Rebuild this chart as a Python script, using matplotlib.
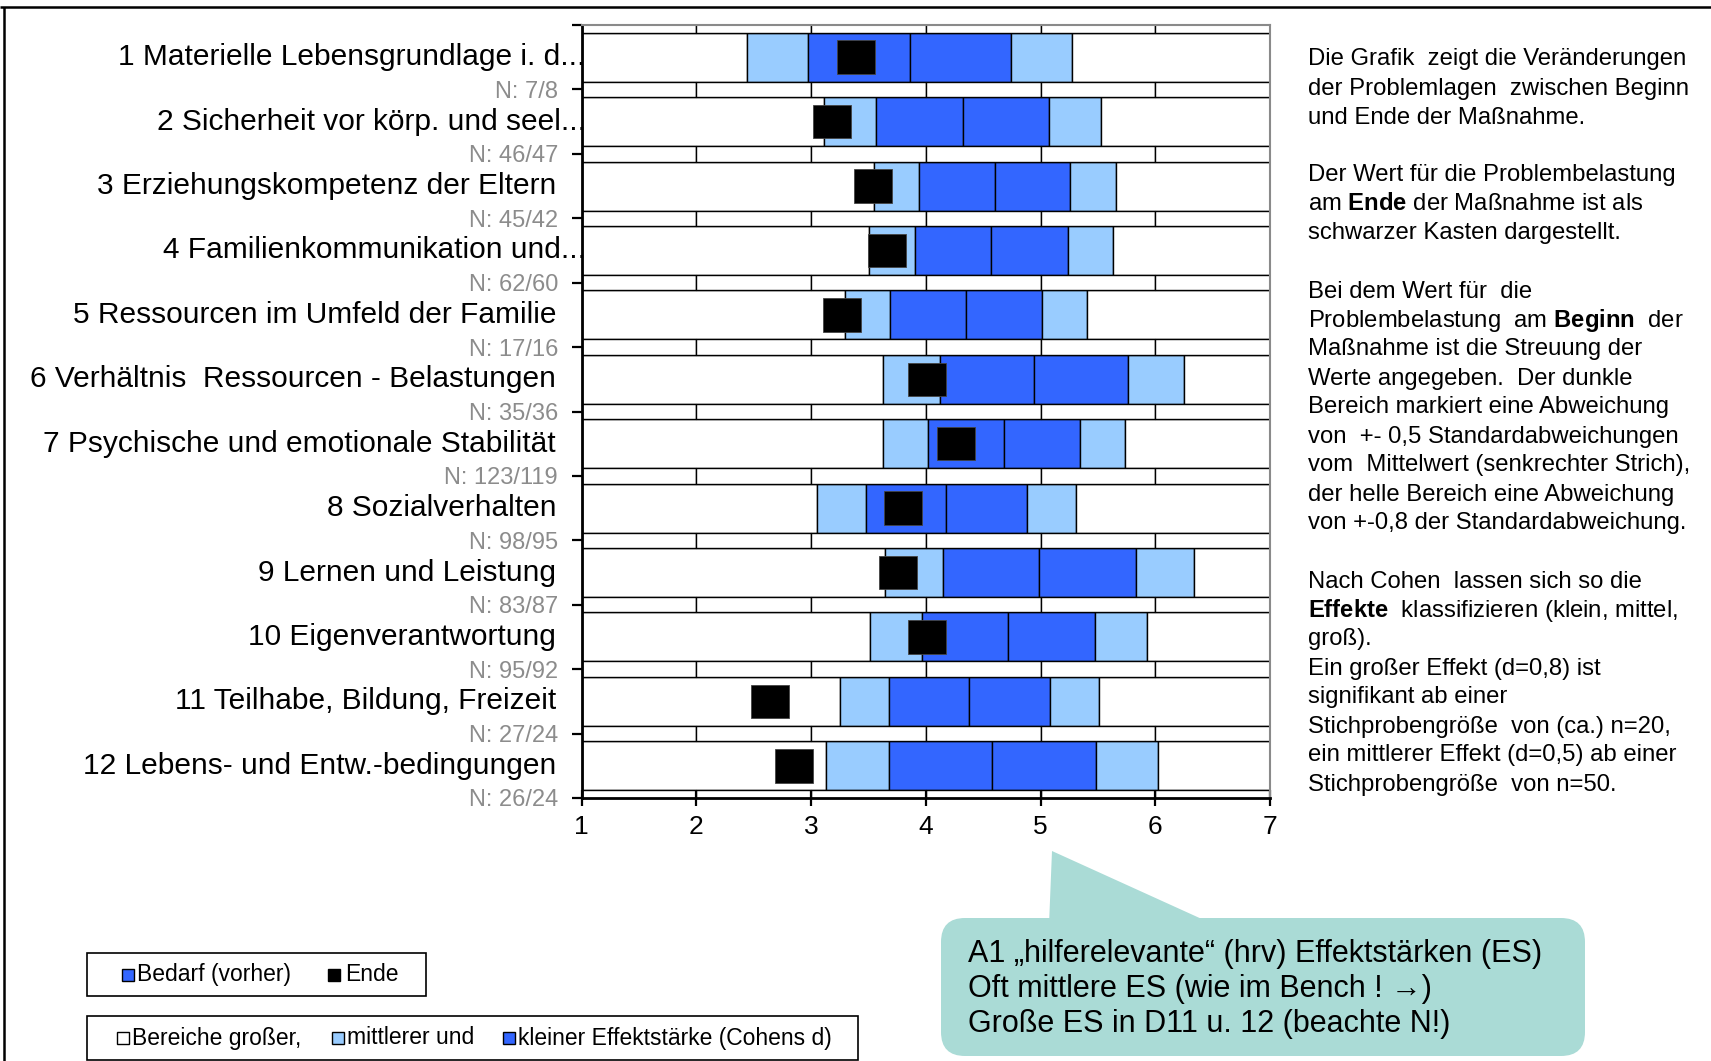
import matplotlib
matplotlib.use("Agg")
import matplotlib.pyplot as plt
import numpy as np
from matplotlib.patches import Rectangle, FancyBboxPatch, Polygon
from matplotlib.transforms import blended_transform_factory
from matplotlib import font_manager

# --- data ---
categories = ["1 Materielle Lebensgrundlage i. d...", "2 Sicherheit vor körp. und seel...",
              "3 Erziehungskompetenz der Eltern", "4 Familienkommunikation und...",
              "5 Ressourcen im Umfeld der Familie", "6 Verhältnis  Ressourcen - Belastungen",
              "7 Psychische und emotionale Stabilität", "8 Sozialverhalten",
              "9 Lernen und Leistung", "10 Eigenverantwortung",
              "11 Teilhabe, Bildung, Freizeit", "12 Lebens- und Entw.-bedingungen"]
n_labels = ["N: 7/8", "N: 46/47", "N: 45/42", "N: 62/60", "N: 17/16", "N: 35/36",
            "N: 123/119", "N: 98/95", "N: 83/87", "N: 95/92", "N: 27/24", "N: 26/24"]
mean_begin = [3.86, 4.32, 4.60, 4.57, 4.35, 4.94, 4.68, 4.18, 4.99, 4.72, 4.38, 4.58]
sd_begin = [1.77, 1.51, 1.32, 1.33, 1.32, 1.64, 1.32, 1.41, 1.68, 1.51, 1.41, 1.81]
end_value = [3.39, 3.18, 3.54, 3.66, 3.27, 4.01, 4.26, 3.80, 3.76, 4.01, 2.64, 2.85]
x_ticks = [1, 2, 3, 4, 5, 6, 7]

info_lines = ["Die Grafik  zeigt die Veränderungen",
              "der Problemlagen  zwischen Beginn",
              "und Ende der Maßnahme.",
              "",
              "Der Wert für die Problembelastung",
              r"am $\mathbf{Ende}$ der Maßnahme ist als",
              "schwarzer Kasten dargestellt.",
              "",
              "Bei dem Wert für  die",
              r"Problembelastung  am $\mathbf{Beginn}$  der",
              "Maßnahme ist die Streuung der",
              "Werte angegeben.  Der dunkle",
              "Bereich markiert eine Abweichung",
              "von  +- 0,5 Standardabweichungen",
              "vom  Mittelwert (senkrechter Strich),",
              "der helle Bereich eine Abweichung",
              "von +-0,8 der Standardabweichung.",
              "",
              "Nach Cohen  lassen sich so die",
              r"$\mathbf{Effekte}$  klassifizieren (klein, mittel,",
              "groß).",
              "Ein großer Effekt (d=0,8) ist",
              "signifikant ab einer",
              "Stichprobengröße  von (ca.) n=20,",
              "ein mittlerer Effekt (d=0,5) ab einer",
              "Stichprobengröße  von n=50."]
callout_lines = ["A1 „hilferelevante“ (hrv) Effektstärken (ES)",
                 "Oft mittlere ES (wie im Bench ! →)",
                 "Große ES in D11 u. 12 (beachte N!)"]

LIGHT = "#99CCFF"
DARK = "#3366FF"

plt.rcParams['font.family'] = ['Liberation Sans', 'DejaVu Sans']
plt.rcParams['mathtext.fontset'] = 'custom'
plt.rcParams['mathtext.rm'] = 'Liberation Sans'
plt.rcParams['mathtext.bf'] = 'Liberation Sans:bold'

names = {f.name for f in font_manager.fontManager.ttflist}
narrow = 'Liberation Sans Narrow' if 'Liberation Sans Narrow' in names else None

W, H = 1711, 1061
fig = plt.figure(figsize=(W / 100, H / 100), dpi=100)
ax = fig.add_axes([581.7 / W, 1 - 798 / H, (1270 - 581.7) / W, (798 - 25) / H])

mean = np.array(mean_begin)
sd = np.array(sd_begin)
end = np.array(end_value)
ypos = np.arange(len(categories))
bh = 0.76
kw = dict(height=bh, edgecolor='black', linewidth=1.0)

light_l = mean - 0.8 * sd
dark_l = mean - 0.5 * sd
dark_r = mean + 0.5 * sd
light_r = mean + 0.8 * sd
ax.barh(ypos, light_l - 1, left=1, color='white', **kw)
ax.barh(ypos, dark_l - light_l, left=light_l, color=LIGHT, **kw)
ax.barh(ypos, mean - dark_l, left=dark_l, color=DARK, **kw)
ax.barh(ypos, dark_r - mean, left=mean, color=DARK, **kw)
ax.barh(ypos, light_r - dark_r, left=dark_r, color=LIGHT, **kw)
ax.barh(ypos, 7 - light_r, left=light_r, color='white', **kw)

# thin scale strips between the rows
bounds = np.arange(-0.5, len(categories) + 0.5, 1.0)
for a, b in zip(x_ticks[:-1], x_ticks[1:]):
    ax.barh(bounds, b - a, left=a, height=1 - bh, color='white',
            edgecolor='black', linewidth=1.0)

# end value boxes
ax.barh(ypos, 0.33, left=end - 0.165, height=0.52, color='black',
        edgecolor='#444444', linewidth=0.6, zorder=5)

ax.set_xlim(1, 7)
ax.set_ylim(len(categories) - 0.5, -0.5)
ax.set_xticks(x_ticks)
ax.set_xticklabels([str(t) for t in x_ticks], fontsize=19)
ax.set_yticks(bounds)
ax.set_yticklabels([""] + n_labels, fontsize=17, color='#8c8c8c')
ax.tick_params(axis='y', length=7, width=1.6, direction='out', pad=10)
ax.tick_params(axis='x', length=11, width=1.6, direction='inout', pad=7)
for s in ['left', 'bottom']:
    ax.spines[s].set_linewidth(2.0)
    ax.spines[s].set_color('black')
for s in ['top', 'right']:
    ax.spines[s].set_linewidth(1.5)
    ax.spines[s].set_color('#8a8a8a')

tr = blended_transform_factory(ax.transAxes, ax.transData)
for y, lab in zip(ypos, categories):
    xr = 0.006 if lab.endswith('...') else -0.0373
    ax.text(xr, y, lab, transform=tr, ha='right', va='center', fontsize=21.5,
            clip_on=False)

# overlay in pixel coordinates for the annotations
ov = fig.add_axes([0, 0, 1, 1])
ov.set_xlim(0, W)
ov.set_ylim(H, 0)
ov.axis('off')

ov.plot([0, W], [6.5, 6.5], color='black', lw=1.8, solid_capstyle='butt')
ov.plot([4, 4], [6.5, H], color='black', lw=1.8, solid_capstyle='butt')

# explanation text on the right
for i, line in enumerate(info_lines):
    if line:
        ov.text(1308, 59.5 + i * 29.0, line, fontsize=17.2, ha='left', va='center')

# legend boxes
ov.add_patch(Rectangle((87, 953), 339, 43, fill=False, ec='black', lw=1.2))
ov.add_patch(Rectangle((122, 968.5), 12, 12, fc=DARK, ec='black', lw=1.0))
ov.text(137, 974.5, "Bedarf (vorher)", fontsize=16.5, va='center')
ov.add_patch(Rectangle((328, 968.5), 12, 12, fc='black', ec='black', lw=1.0))
ov.text(345, 974.5, "Ende", fontsize=16.5, va='center')

ov.add_patch(Rectangle((87, 1016), 771, 43.5, fill=False, ec='black', lw=1.2))
leg2 = [(117, 'white', "Bereiche großer,"), (332, LIGHT, "mittlerer und"),
        (503, DARK, "kleiner Effektstärke (Cohens d)")]
for x0, c, t in leg2:
    ov.add_patch(Rectangle((x0, 1032), 12, 12, fc=c, ec='black', lw=1.0))
    ov.text(x0 + 15, 1038, t, fontsize=16.5, va='center')

# callout
teal = "#AADBD6"
ov.add_patch(Polygon([(1052, 851), (1049, 925), (1215, 925)], closed=True,
                     fc=teal, ec='none'))
ov.add_patch(FancyBboxPatch((941, 918), 644, 138, boxstyle="round,pad=0,rounding_size=24",
                            fc=teal, ec='none'))
cfam = [narrow, 'Liberation Sans', 'DejaVu Sans'] if narrow else ['Liberation Sans', 'DejaVu Sans']
csize = 25 if narrow else 22
for i, line in enumerate(callout_lines):
    ov.text(968, 954 + i * 35, line, fontsize=csize, va='center', ha='left',
            family=cfam)

fig.savefig("out.png", dpi=100)
